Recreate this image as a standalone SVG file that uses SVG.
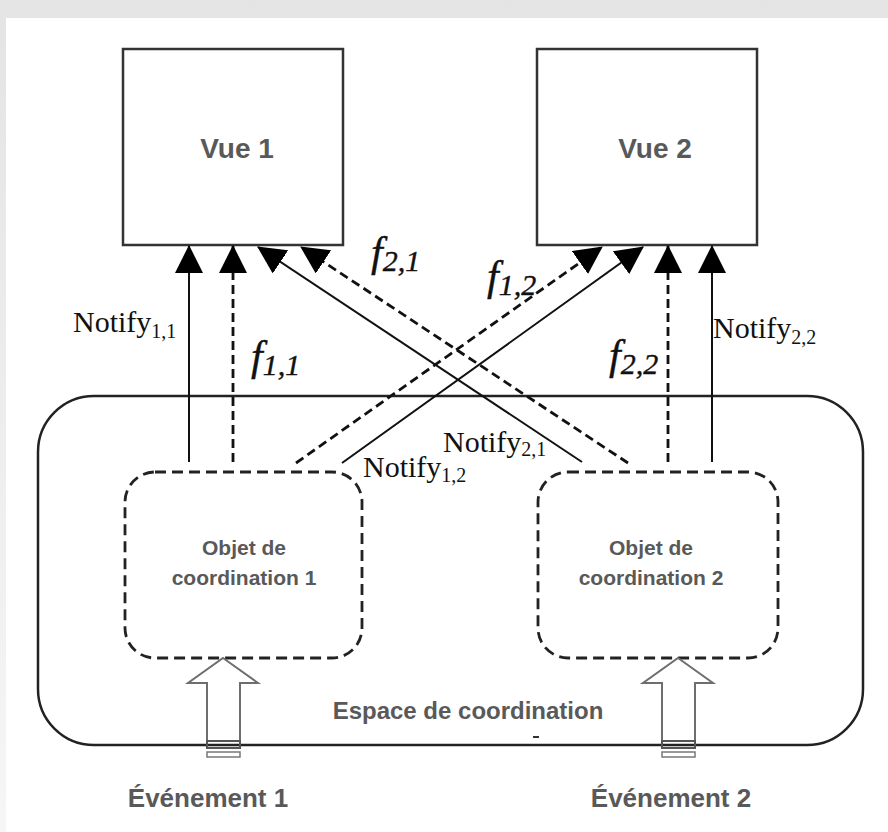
<svg xmlns="http://www.w3.org/2000/svg" width="888" height="832" viewBox="0 0 888 832">
<defs>
<linearGradient id="bg" x1="0" y1="0" x2="0" y2="1">
<stop offset="0" stop-color="#e4e4e4"/>
<stop offset="1" stop-color="#f6f6f6"/>
</linearGradient>
<marker id="ah" markerUnits="userSpaceOnUse" markerWidth="28" markerHeight="28" viewBox="0 0 28 28" refX="27" refY="14" orient="auto">
<path d="M0,0 L28,14 L0,28 z" fill="#000"/>
</marker>
<style>
.box{fill:#fff;stroke:#333;stroke-width:2.5}
.lbl{font-family:"Liberation Sans",Arial,sans-serif;font-weight:bold;fill:#595959;text-anchor:middle}
.solid{stroke:#111;stroke-width:2;fill:none}
.dash{stroke:#111;stroke-width:2.8;fill:none;stroke-dasharray:9 5}
.co{fill:none;stroke:#222;stroke-width:2.8;stroke-dasharray:11 6}
.ser{font-family:"Liberation Serif","Times New Roman",serif;fill:#111}
.fi{font-family:"Liberation Serif","Times New Roman",serif;font-style:italic;fill:#111;stroke:#111;stroke-width:0.4}
.ev{fill:#fff;stroke:#6e6e6e;stroke-width:2}
</style>
</defs>
<rect x="0" y="0" width="888" height="832" fill="url(#bg)"/>
<rect x="6" y="18" width="882" height="814" fill="#fff"/>

<g id="espace">
<rect x="38" y="396" width="825" height="349" rx="56" ry="56" fill="none" stroke="#222" stroke-width="2.5"/>
<text class="lbl" x="468" y="719" font-size="24">Espace de coordination</text>
<line x1="533" y1="737" x2="539" y2="737" stroke="#333" stroke-width="2"/>
</g>

<g id="vue1">
<rect class="box" x="123" y="49" width="220" height="196"/>
<text class="lbl" x="237" y="158" font-size="28">Vue 1</text>
</g>
<g id="vue2">
<rect class="box" x="537" y="49" width="220" height="196"/>
<text class="lbl" x="655" y="158" font-size="28">Vue 2</text>
</g>

<g id="coord1">
<rect class="co" x="125" y="472" width="237" height="186" rx="30" ry="30"/>
<text class="lbl" x="244" y="555" font-size="21">Objet de</text>
<text class="lbl" x="244" y="585" font-size="21">coordination 1</text>
</g>
<g id="coord2">
<rect class="co" x="538" y="472" width="240" height="186" rx="30" ry="30"/>
<text class="lbl" x="651" y="555" font-size="21">Objet de</text>
<text class="lbl" x="651" y="585" font-size="21">coordination 2</text>
</g>

<g id="event1">
<path class="ev" d="M223,658 L258,683 L240,683 L240,741 L207,741 L207,683 L188,683 Z"/>
<rect x="207" y="741" width="33" height="7" fill="none" stroke="#555" stroke-width="2"/>
<rect x="207" y="752" width="33" height="5" fill="none" stroke="#777" stroke-width="1.5"/>
<text class="lbl" x="208" y="807" font-size="26">Événement 1</text>
</g>
<g id="event2">
<path class="ev" d="M678,658 L713,683 L695,683 L695,741 L662,741 L662,683 L643,683 Z"/>
<rect x="662" y="741" width="33" height="7" fill="none" stroke="#555" stroke-width="2"/>
<rect x="662" y="752" width="33" height="5" fill="none" stroke="#777" stroke-width="1.5"/>
<text class="lbl" x="671" y="807" font-size="26">Événement 2</text>
</g>

<g id="connectors">
<line class="solid" x1="189" y1="462" x2="189" y2="246" marker-end="url(#ah)"/>
<line class="dash" x1="233" y1="462" x2="233" y2="246" marker-end="url(#ah)"/>
<line class="dash" x1="668" y1="462" x2="668" y2="246" marker-end="url(#ah)"/>
<line class="solid" x1="712" y1="462" x2="712" y2="246" marker-end="url(#ah)"/>
<line class="solid" x1="582" y1="462" x2="258" y2="247" marker-end="url(#ah)"/>
<line class="dash" x1="628" y1="463" x2="301" y2="247" marker-end="url(#ah)"/>
<line class="dash" x1="296" y1="463" x2="602" y2="247" marker-end="url(#ah)"/>
<line class="solid" x1="342" y1="463" x2="643" y2="247" marker-end="url(#ah)"/>
</g>

<g id="labels">
<text class="ser" x="73" y="332" font-size="30">Notify<tspan font-size="20" dy="6">1,1</tspan></text>
<text class="ser" x="713" y="338" font-size="30">Notify<tspan font-size="20" dy="6">2,2</tspan></text>
<text class="ser" x="443" y="452" font-size="30">Notify<tspan font-size="20" dy="4">2,1</tspan></text>
<text class="ser" x="363" y="477" font-size="30">Notify<tspan font-size="20" dy="5">1,2</tspan></text>
<text class="fi" x="251" y="370" font-size="42">f<tspan font-size="30" dy="5">1,1</tspan></text>
<text class="fi" x="371" y="266" font-size="42">f<tspan font-size="30" dy="5">2,1</tspan></text>
<text class="fi" x="487" y="290" font-size="42">f<tspan font-size="30" dy="5">1,2</tspan></text>
<text class="fi" x="609" y="369" font-size="42">f<tspan font-size="30" dy="5">2,2</tspan></text>
</g>
</svg>
